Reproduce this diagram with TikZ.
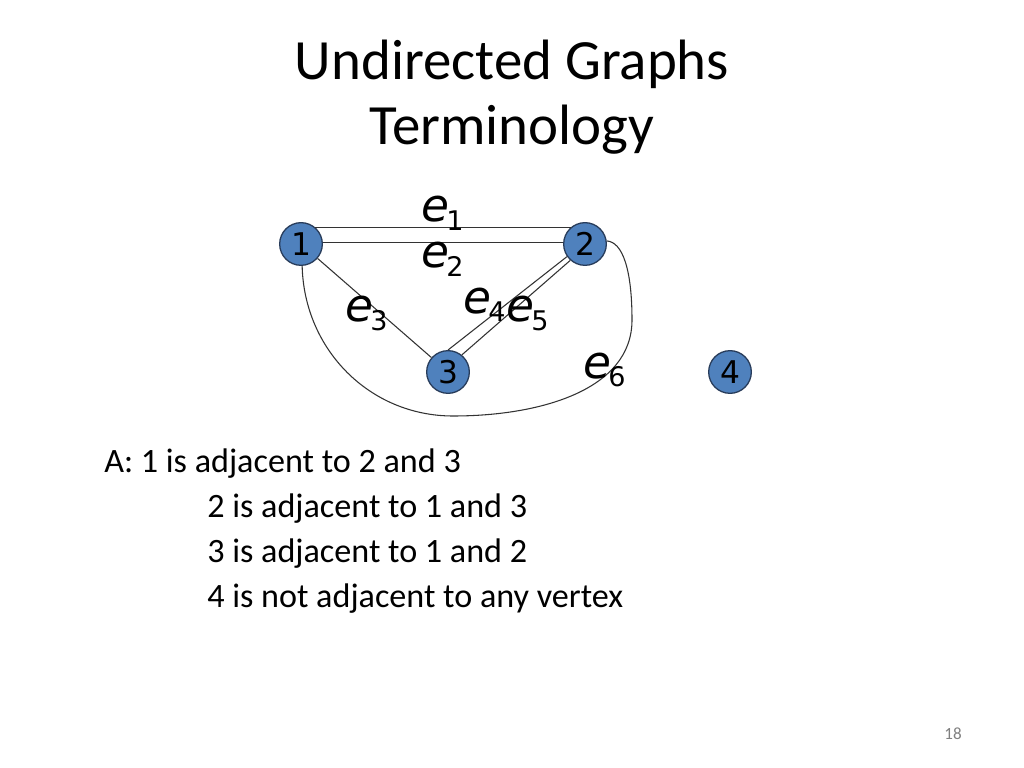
\documentclass[tikz,border=0pt]{standalone}
\usepackage{fontspec}
\setmainfont{Carlito}
\newfontfamily\efont{DejaVu Sans}
\newfontfamily\nfont{DejaVu Sans}
\definecolor{nodeblue}{RGB}{79,129,189}
\definecolor{nodeborder}{RGB}{40,60,90}
\newcommand\elab[1]{{\efont\itshape\fontsize{32}{32}\selectfont e}\kern-2pt\raisebox{-6pt}{\efont\fontsize{19}{19}\selectfont #1}}
\begin{document}
\begin{tikzpicture}[x=0.703125pt,y=-0.703125pt,
  vertex/.style={circle, fill=nodeblue, draw=nodeborder, line width=0.9pt,
    minimum size=30pt, inner sep=0pt, font=\nfont\fontsize{22}{22}\selectfont},
  gedge/.style={draw=black!80, line width=0.75pt},
  elabel/.style={anchor=base west, inner sep=0pt},
  title/.style={font=\fontsize{40}{40}\selectfont, anchor=base, inner sep=0pt},
  body/.style={font=\fontsize{24}{24}\selectfont, anchor=base west, inner sep=0pt}]
\useasboundingbox (0,0) rectangle (1024,768);
\fill[white] (0,0) rectangle (1024,768);
% title
\node[title] (t1) at (512,80) {Undirected Graphs};
\node[title] (t2) at (512,145) {Terminology};
% vertices
\node[vertex] (n1) at (301,244) {1};
\node[vertex] (n2) at (585,244) {2};
\node[vertex] (n3) at (448,372) {3};
\node[vertex] (n4) at (730,372) {4};
% edges
\draw[gedge] (n1.50) -- (n2.130);
\draw[gedge] (n1.4) -- (n2.176);
\draw[gedge] (n1) -- (n3);
\draw[gedge] (n2.215) -- (n3.90);
\draw[gedge] (n2.228) -- (n3.51);
\coordinate (c6a) at (453,416);
\coordinate (c6b) at (632,320);
\draw[gedge] (n1.273) .. controls +(2,84) and +(-83,0) .. (c6a)
  .. controls +(87,0) and +(0,70) .. (c6b)
  .. controls +(0,-50) and +(16,1) .. (n2.8);
% edge labels
\node[elabel] (l1) at (421,222) {\elab{1}};
\node[elabel] (l2) at (421,268) {\elab{2}};
\node[elabel] (l3) at (345,322) {\elab{3}};
\node[elabel] (l4) at (463,313) {\elab{4}};
\node[elabel] (l5) at (506,322) {\elab{5}};
\node[elabel] (l6) at (583,378) {\elab{6}};
% body text
\node[body] (b1) at (104,472) {A: 1 is adjacent to 2 and 3};
\node[body] (b2) at (207,517) {2 is adjacent to 1 and 3};
\node[body] (b3) at (207,562) {3 is adjacent to 1 and 2};
\node[body] (b4) at (207,607) {4 is not adjacent to any vertex};
% page number
\node[font=\fontsize{12}{12}\selectfont, text=black!50, inner sep=0pt] (pg) at (953,734) {18};
\end{tikzpicture}
\end{document}
